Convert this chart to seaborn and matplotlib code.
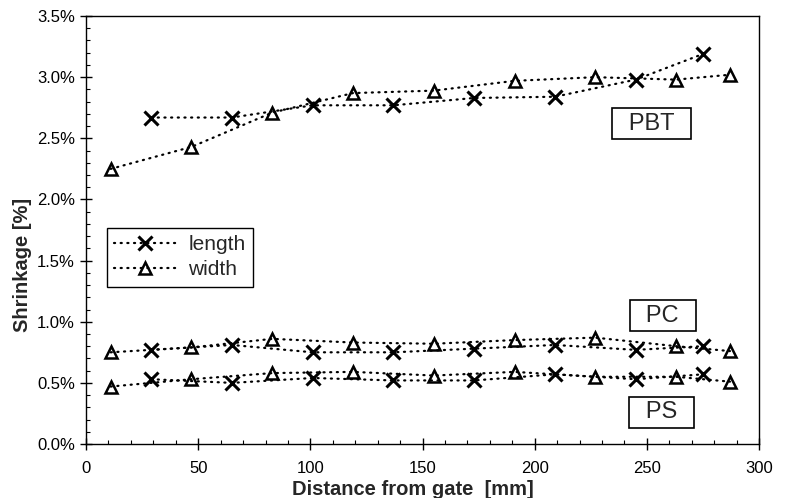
import numpy as np
import pandas as pd
import matplotlib
matplotlib.use("Agg")
import matplotlib.pyplot as plt
import seaborn as sns
from matplotlib.lines import Line2D
from matplotlib.ticker import MultipleLocator, PercentFormatter

# ------------------------------------------
# data
# ------------------------------------------
length_x = [29, 65, 101, 137, 173, 209, 245, 275]
width_x = [11, 47, 83, 119, 155, 191, 227, 263, 287]

pbt_length = [2.67, 2.67, 2.77, 2.77, 2.83, 2.84, 2.98, 3.19]
pbt_width = [2.25, 2.43, 2.71, 2.87, 2.89, 2.97, 3.00, 2.98, 3.02]

pc_length = [0.77, 0.81, 0.75, 0.75, 0.78, 0.81, 0.77, 0.80]
pc_width = [0.75, 0.79, 0.86, 0.83, 0.82, 0.85, 0.87, 0.80, 0.76]

ps_length = [0.53, 0.50, 0.54, 0.52, 0.52, 0.57, 0.53, 0.57]
ps_width = [0.47, 0.53, 0.58, 0.59, 0.56, 0.59, 0.55, 0.55, 0.51]

materials = ["PBT", "PC", "PS"]
length_series = [pbt_length, pc_length, ps_length]
width_series = [pbt_width, pc_width, ps_width]

# long table for seaborn
rows = []
for mat, ln, wd in zip(materials, length_series, width_series):
    for x, y in zip(length_x, ln):
        rows.append((mat, "length", x, y))
    for x, y in zip(width_x, wd):
        rows.append((mat, "width", x, y))
df = pd.DataFrame(rows, columns=["material", "dimension", "distance", "shrinkage"])

# ------------------------------------------
# plot
# ------------------------------------------
sns.set_theme(style="ticks")
plt.rcParams["font.family"] = ["Liberation Sans", "DejaVu Sans"]

fig = plt.figure(figsize=(7.9, 4.98), dpi=100)
ax = fig.add_axes([0.1089, 0.1084, 0.852, 0.8594])

dot = (0, (0.5, 2.5))
styles = {
    "length": dict(marker="x", ms=10, mew=2.2),
    "width": dict(marker="^", ms=8.5, mew=1.8),
}
for dim, st in styles.items():
    sns.lineplot(
        data=df[df["dimension"] == dim], x="distance", y="shrinkage",
        units="material", estimator=None, sort=False,
        color="black", lw=1.6, ls=dot, dash_capstyle="round",
        mec="black", mfc="none", legend=False, ax=ax, **st,
    )

ax.set_xlim(0, 300)
ax.set_ylim(0, 3.5)
ax.xaxis.set_major_locator(MultipleLocator(50))
ax.xaxis.set_minor_locator(MultipleLocator(10))
ax.yaxis.set_major_locator(MultipleLocator(0.5))
ax.yaxis.set_minor_locator(MultipleLocator(0.1))
ax.yaxis.set_major_formatter(PercentFormatter(xmax=100, decimals=1))
ax.tick_params(which="major", direction="inout", length=8, width=1, colors="black",
               labelsize=12, pad=4)
ax.tick_params(axis="x", which="major", pad=8)
ax.tick_params(which="minor", direction="in", length=3, width=0.8, colors="black")
for sp in ax.spines.values():
    sp.set_color("black")
    sp.set_linewidth(1.0)

ax.set_xlabel("Distance from gate  [mm]", fontsize=14.5, fontweight="bold")
ax.xaxis.label.set_va("baseline")
ax.xaxis.set_label_coords(0.486, -0.119)
ax.set_ylabel("Shrinkage [%]", fontsize=14.5, fontweight="bold")
ax.yaxis.label.set_va("center")
ax.yaxis.set_label_coords(-0.094, 0.418)

# legend
handles = [
    Line2D([], [], color="black", lw=1.6, ls=dot, dash_capstyle="round",
           marker="x", ms=10, mew=2.2),
    Line2D([], [], color="black", lw=1.6, ls=dot, dash_capstyle="round",
           marker="^", ms=8.5, mew=1.8, mfc="none", mec="black"),
]
leg = ax.legend(handles, ["length", "width"], loc="upper left",
                bbox_to_anchor=(0.031, 0.505), borderaxespad=0, fontsize=15,
                handlelength=3.0, handletextpad=0.55, labelspacing=0.3,
                borderpad=0.35, fancybox=False, framealpha=1, edgecolor="black")
leg.get_frame().set_linewidth(1.0)

# material labels
box = dict(boxstyle="square,pad=0.2", fc="white", ec="black", lw=1.2)
ax.text(252, 2.62, "\u2002PBT\u2002", ha="center", va="center", fontsize=17, bbox=box)
ax.text(257, 1.05, "\u2002PC\u2002", ha="center", va="center", fontsize=17, bbox=box)
ax.text(256.5, 0.26, "\u2002PS\u2002", ha="center", va="center", fontsize=17, bbox=box)

fig.savefig("out.png", dpi=100)
